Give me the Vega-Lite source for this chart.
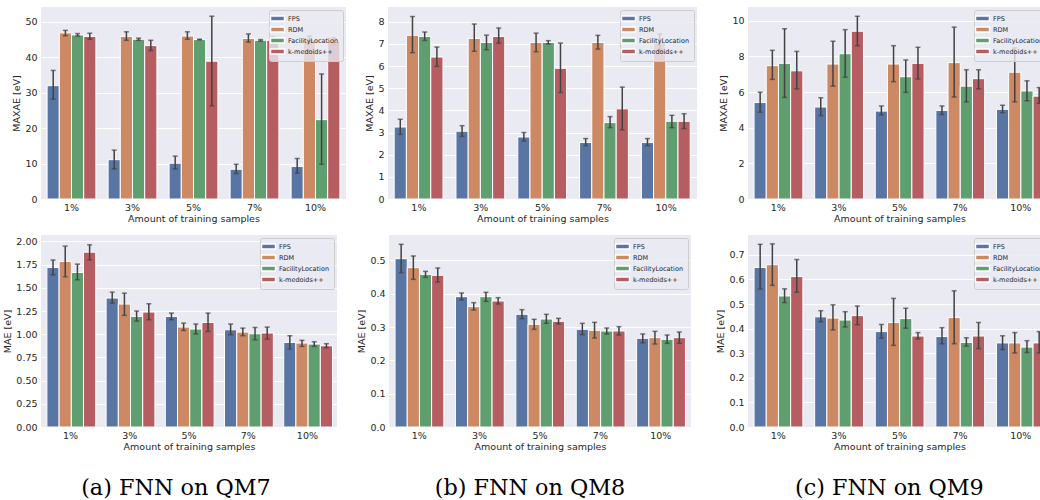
{
  "$schema": "https://vega.github.io/schema/vega-lite/v6.json",
  "background": "white",
  "padding": {"left": 2, "top": 7, "right": 0, "bottom": 0},
  "config": {
    "font": "DejaVu Sans",
    "view": {"fill": "#EAEAF2", "stroke": null},
    "axis": {"domain": false, "ticks": false, "labelFont": "DejaVu Sans", "labelFontSize": 9.5, "labelColor": "#262626", "titleFont": "DejaVu Sans", "titleFontSize": 9.5, "titleFontWeight": "normal", "titleColor": "#262626", "gridColor": "white", "gridWidth": 1},
    "axisX": {"grid": false, "labelAngle": 0, "labelPadding": 3, "titlePadding": 2},
    "axisY": {"grid": true, "labelPadding": 4, "titlePadding": 3},
    "legend": {"orient": "top-right", "offset": 3, "labelFont": "DejaVu Sans", "labelFontSize": 6.5, "labelColor": "#262626", "fillColor": "rgba(234,234,242,0.8)", "strokeColor": "#cccccc", "padding": 4, "cornerRadius": 2, "rowPadding": 0, "labelOffset": 6},
    "title": {"font": "DejaVu Serif", "fontSize": 22.3, "fontWeight": "normal", "color": "#000000"}
  },
  "datasets": {
    "qm7_maxae": [
      {"pct": "1%", "method": "FPS", "value": 32.0, "lo": 28.2, "hi": 36.3},
      {"pct": "1%", "method": "RDM", "value": 46.9, "lo": 46.1, "hi": 47.6},
      {"pct": "1%", "method": "FacilityLocation", "value": 46.3, "lo": 46.0, "hi": 46.7},
      {"pct": "1%", "method": "k-medoids++", "value": 45.9, "lo": 45.1, "hi": 46.8},
      {"pct": "3%", "method": "FPS", "value": 11.1, "lo": 8.5, "hi": 13.8},
      {"pct": "3%", "method": "RDM", "value": 45.9, "lo": 44.8, "hi": 47.2},
      {"pct": "3%", "method": "FacilityLocation", "value": 45.1, "lo": 44.8, "hi": 45.4},
      {"pct": "3%", "method": "k-medoids++", "value": 43.3, "lo": 41.9, "hi": 44.8},
      {"pct": "5%", "method": "FPS", "value": 10.1, "lo": 8.5, "hi": 12.1},
      {"pct": "5%", "method": "RDM", "value": 46.0, "lo": 45.1, "hi": 47.2},
      {"pct": "5%", "method": "FacilityLocation", "value": 45.0, "lo": 44.9, "hi": 45.1},
      {"pct": "5%", "method": "k-medoids++", "value": 38.9, "lo": 26.3, "hi": 51.6},
      {"pct": "7%", "method": "FPS", "value": 8.4, "lo": 7.2, "hi": 9.8},
      {"pct": "7%", "method": "RDM", "value": 45.3, "lo": 44.3, "hi": 46.6},
      {"pct": "7%", "method": "FacilityLocation", "value": 44.8, "lo": 44.6, "hi": 45.0},
      {"pct": "7%", "method": "k-medoids++", "value": 44.8, "lo": 43.8, "hi": 45.9},
      {"pct": "10%", "method": "FPS", "value": 9.2, "lo": 7.3, "hi": 11.4},
      {"pct": "10%", "method": "RDM", "value": 45.0, "lo": 44.0, "hi": 46.0},
      {"pct": "10%", "method": "FacilityLocation", "value": 22.4, "lo": 9.8, "hi": 35.3},
      {"pct": "10%", "method": "k-medoids++", "value": 44.5, "lo": 43.5, "hi": 45.5}
    ],
    "qm8_maxae": [
      {"pct": "1%", "method": "FPS", "value": 3.25, "lo": 2.92, "hi": 3.60},
      {"pct": "1%", "method": "RDM", "value": 7.39, "lo": 6.61, "hi": 8.24},
      {"pct": "1%", "method": "FacilityLocation", "value": 7.34, "lo": 7.16, "hi": 7.54},
      {"pct": "1%", "method": "k-medoids++", "value": 6.41, "lo": 5.99, "hi": 6.86},
      {"pct": "3%", "method": "FPS", "value": 3.06, "lo": 2.83, "hi": 3.31},
      {"pct": "3%", "method": "RDM", "value": 7.25, "lo": 6.67, "hi": 7.90},
      {"pct": "3%", "method": "FacilityLocation", "value": 7.07, "lo": 6.74, "hi": 7.40},
      {"pct": "3%", "method": "k-medoids++", "value": 7.34, "lo": 7.04, "hi": 7.72},
      {"pct": "5%", "method": "FPS", "value": 2.80, "lo": 2.62, "hi": 3.00},
      {"pct": "5%", "method": "RDM", "value": 7.07, "lo": 6.65, "hi": 7.49},
      {"pct": "5%", "method": "FacilityLocation", "value": 7.07, "lo": 7.00, "hi": 7.15},
      {"pct": "5%", "method": "k-medoids++", "value": 5.90, "lo": 4.81, "hi": 7.04},
      {"pct": "7%", "method": "FPS", "value": 2.55, "lo": 2.41, "hi": 2.73},
      {"pct": "7%", "method": "RDM", "value": 7.07, "lo": 6.77, "hi": 7.39},
      {"pct": "7%", "method": "FacilityLocation", "value": 3.45, "lo": 3.22, "hi": 3.72},
      {"pct": "7%", "method": "k-medoids++", "value": 4.07, "lo": 3.12, "hi": 5.05},
      {"pct": "10%", "method": "FPS", "value": 2.55, "lo": 2.41, "hi": 2.73},
      {"pct": "10%", "method": "RDM", "value": 7.05, "lo": 6.70, "hi": 7.45},
      {"pct": "10%", "method": "FacilityLocation", "value": 3.51, "lo": 3.22, "hi": 3.78},
      {"pct": "10%", "method": "k-medoids++", "value": 3.51, "lo": 3.18, "hi": 3.85}
    ],
    "qm9_maxae": [
      {"pct": "1%", "method": "FPS", "value": 5.41, "lo": 4.87, "hi": 5.99},
      {"pct": "1%", "method": "RDM", "value": 7.48, "lo": 6.71, "hi": 8.34},
      {"pct": "1%", "method": "FacilityLocation", "value": 7.61, "lo": 5.70, "hi": 9.55},
      {"pct": "1%", "method": "k-medoids++", "value": 7.19, "lo": 6.18, "hi": 8.28},
      {"pct": "3%", "method": "FPS", "value": 5.16, "lo": 4.68, "hi": 5.68},
      {"pct": "3%", "method": "RDM", "value": 7.57, "lo": 6.33, "hi": 8.85},
      {"pct": "3%", "method": "FacilityLocation", "value": 8.15, "lo": 6.83, "hi": 9.50},
      {"pct": "3%", "method": "k-medoids++", "value": 9.41, "lo": 8.60, "hi": 10.25},
      {"pct": "5%", "method": "FPS", "value": 4.93, "lo": 4.72, "hi": 5.22},
      {"pct": "5%", "method": "RDM", "value": 7.57, "lo": 6.58, "hi": 8.60},
      {"pct": "5%", "method": "FacilityLocation", "value": 6.86, "lo": 5.98, "hi": 7.80},
      {"pct": "5%", "method": "k-medoids++", "value": 7.61, "lo": 6.73, "hi": 8.51},
      {"pct": "7%", "method": "FPS", "value": 4.97, "lo": 4.74, "hi": 5.22},
      {"pct": "7%", "method": "RDM", "value": 7.65, "lo": 5.72, "hi": 9.64},
      {"pct": "7%", "method": "FacilityLocation", "value": 6.33, "lo": 5.45, "hi": 7.25},
      {"pct": "7%", "method": "k-medoids++", "value": 6.75, "lo": 6.18, "hi": 7.25},
      {"pct": "10%", "method": "FPS", "value": 5.03, "lo": 4.84, "hi": 5.26},
      {"pct": "10%", "method": "RDM", "value": 7.11, "lo": 5.45, "hi": 8.47},
      {"pct": "10%", "method": "FacilityLocation", "value": 6.06, "lo": 5.51, "hi": 6.63},
      {"pct": "10%", "method": "k-medoids++", "value": 5.77, "lo": 5.37, "hi": 6.25}
    ],
    "qm7_mae": [
      {"pct": "1%", "method": "FPS", "value": 1.72, "lo": 1.64, "hi": 1.80},
      {"pct": "1%", "method": "RDM", "value": 1.785, "lo": 1.62, "hi": 1.95},
      {"pct": "1%", "method": "FacilityLocation", "value": 1.666, "lo": 1.587, "hi": 1.756},
      {"pct": "1%", "method": "k-medoids++", "value": 1.885, "lo": 1.802, "hi": 1.964},
      {"pct": "3%", "method": "FPS", "value": 1.39, "lo": 1.336, "hi": 1.454},
      {"pct": "3%", "method": "RDM", "value": 1.325, "lo": 1.203, "hi": 1.443},
      {"pct": "3%", "method": "FacilityLocation", "value": 1.192, "lo": 1.142, "hi": 1.25},
      {"pct": "3%", "method": "k-medoids++", "value": 1.239, "lo": 1.156, "hi": 1.329},
      {"pct": "5%", "method": "FPS", "value": 1.192, "lo": 1.156, "hi": 1.228},
      {"pct": "5%", "method": "RDM", "value": 1.077, "lo": 1.041, "hi": 1.12},
      {"pct": "5%", "method": "FacilityLocation", "value": 1.056, "lo": 1.002, "hi": 1.11},
      {"pct": "5%", "method": "k-medoids++", "value": 1.127, "lo": 1.03, "hi": 1.228},
      {"pct": "7%", "method": "FPS", "value": 1.048, "lo": 0.995, "hi": 1.11},
      {"pct": "7%", "method": "RDM", "value": 1.023, "lo": 0.984, "hi": 1.066},
      {"pct": "7%", "method": "FacilityLocation", "value": 1.005, "lo": 0.941, "hi": 1.073},
      {"pct": "7%", "method": "k-medoids++", "value": 1.013, "lo": 0.948, "hi": 1.077},
      {"pct": "10%", "method": "FPS", "value": 0.912, "lo": 0.84, "hi": 0.984},
      {"pct": "10%", "method": "RDM", "value": 0.905, "lo": 0.869, "hi": 0.934},
      {"pct": "10%", "method": "FacilityLocation", "value": 0.894, "lo": 0.869, "hi": 0.919},
      {"pct": "10%", "method": "k-medoids++", "value": 0.876, "lo": 0.855, "hi": 0.898}
    ],
    "qm8_mae": [
      {"pct": "1%", "method": "FPS", "value": 0.505, "lo": 0.463, "hi": 0.548},
      {"pct": "1%", "method": "RDM", "value": 0.478, "lo": 0.443, "hi": 0.513},
      {"pct": "1%", "method": "FacilityLocation", "value": 0.458, "lo": 0.449, "hi": 0.467},
      {"pct": "1%", "method": "k-medoids++", "value": 0.455, "lo": 0.435, "hi": 0.477},
      {"pct": "3%", "method": "FPS", "value": 0.391, "lo": 0.381, "hi": 0.402},
      {"pct": "3%", "method": "RDM", "value": 0.361, "lo": 0.351, "hi": 0.373},
      {"pct": "3%", "method": "FacilityLocation", "value": 0.391, "lo": 0.377, "hi": 0.404},
      {"pct": "3%", "method": "k-medoids++", "value": 0.378, "lo": 0.369, "hi": 0.388},
      {"pct": "5%", "method": "FPS", "value": 0.338, "lo": 0.325, "hi": 0.352},
      {"pct": "5%", "method": "RDM", "value": 0.308, "lo": 0.293, "hi": 0.323},
      {"pct": "5%", "method": "FacilityLocation", "value": 0.324, "lo": 0.311, "hi": 0.338},
      {"pct": "5%", "method": "k-medoids++", "value": 0.317, "lo": 0.309, "hi": 0.326},
      {"pct": "7%", "method": "FPS", "value": 0.293, "lo": 0.277, "hi": 0.311},
      {"pct": "7%", "method": "RDM", "value": 0.290, "lo": 0.267, "hi": 0.314},
      {"pct": "7%", "method": "FacilityLocation", "value": 0.288, "lo": 0.279, "hi": 0.297},
      {"pct": "7%", "method": "k-medoids++", "value": 0.288, "lo": 0.276, "hi": 0.301},
      {"pct": "10%", "method": "FPS", "value": 0.266, "lo": 0.253, "hi": 0.279},
      {"pct": "10%", "method": "RDM", "value": 0.268, "lo": 0.249, "hi": 0.287},
      {"pct": "10%", "method": "FacilityLocation", "value": 0.263, "lo": 0.251, "hi": 0.276},
      {"pct": "10%", "method": "k-medoids++", "value": 0.268, "lo": 0.251, "hi": 0.285}
    ],
    "qm9_mae": [
      {"pct": "1%", "method": "FPS", "value": 0.649, "lo": 0.561, "hi": 0.743},
      {"pct": "1%", "method": "RDM", "value": 0.660, "lo": 0.576, "hi": 0.745},
      {"pct": "1%", "method": "FacilityLocation", "value": 0.533, "lo": 0.506, "hi": 0.562},
      {"pct": "1%", "method": "k-medoids++", "value": 0.612, "lo": 0.548, "hi": 0.681},
      {"pct": "3%", "method": "FPS", "value": 0.448, "lo": 0.428, "hi": 0.473},
      {"pct": "3%", "method": "RDM", "value": 0.443, "lo": 0.395, "hi": 0.497},
      {"pct": "3%", "method": "FacilityLocation", "value": 0.435, "lo": 0.407, "hi": 0.469},
      {"pct": "3%", "method": "k-medoids++", "value": 0.453, "lo": 0.416, "hi": 0.492},
      {"pct": "5%", "method": "FPS", "value": 0.388, "lo": 0.361, "hi": 0.417},
      {"pct": "5%", "method": "RDM", "value": 0.425, "lo": 0.332, "hi": 0.523},
      {"pct": "5%", "method": "FacilityLocation", "value": 0.441, "lo": 0.402, "hi": 0.483},
      {"pct": "5%", "method": "k-medoids++", "value": 0.370, "lo": 0.358, "hi": 0.384},
      {"pct": "7%", "method": "FPS", "value": 0.368, "lo": 0.338, "hi": 0.404},
      {"pct": "7%", "method": "RDM", "value": 0.445, "lo": 0.339, "hi": 0.554},
      {"pct": "7%", "method": "FacilityLocation", "value": 0.344, "lo": 0.329, "hi": 0.363},
      {"pct": "7%", "method": "k-medoids++", "value": 0.370, "lo": 0.319, "hi": 0.425},
      {"pct": "10%", "method": "FPS", "value": 0.342, "lo": 0.315, "hi": 0.371},
      {"pct": "10%", "method": "RDM", "value": 0.342, "lo": 0.301, "hi": 0.384},
      {"pct": "10%", "method": "FacilityLocation", "value": 0.325, "lo": 0.303, "hi": 0.351},
      {"pct": "10%", "method": "k-medoids++", "value": 0.342, "lo": 0.301, "hi": 0.388}
    ]
  },
  "resolve": {"scale": {"color": "independent", "y": "independent", "x": "independent"}, "legend": {"color": "independent"}},
  "spacing": 12,
  "vconcat": [
    {
      "spacing": 21,
      "resolve": {"scale": {"color": "independent", "y": "independent", "x": "independent"}, "legend": {"color": "independent"}},
      "hconcat": [
        {
          "spacing": 18,
          "resolve": {"scale": {"color": "independent", "y": "independent", "x": "independent"}, "legend": {"color": "independent"}},
          "hconcat": [
            {
              "width": 305, "height": 192,
              "data": {"name": "qm7_maxae"},
              "encoding": {
                "x": {"field": "pct", "type": "nominal", "sort": ["1%", "3%", "5%", "7%", "10%"], "title": "Amount of training samples", "scale": {"paddingInner": 0.2, "paddingOuter": 0.1}},
                "xOffset": {"field": "method", "type": "nominal", "sort": ["FPS", "RDM", "FacilityLocation", "k-medoids++"], "scale": {"paddingInner": 0, "paddingOuter": 0}}
              },
              "layer": [
                {"mark": {"type": "bar", "stroke": "white", "strokeWidth": 1},
                 "encoding": {
                   "y": {"field": "value", "type": "quantitative", "title": "MAXAE [eV]", "scale": {"domain": [0, 54.2], "nice": false}, "axis": {"values": [0, 10, 20, 30, 40, 50], "format": "d"}},
                   "color": {"field": "method", "type": "nominal", "scale": {"domain": ["FPS", "RDM", "FacilityLocation", "k-medoids++"], "range": ["#5975a4", "#cc8963", "#5f9e6e", "#b55d60"]}, "legend": {"title": null, "symbolType": "M-2,-0.7H2V0.7H-2Z", "symbolSize": 49}}
                 }},
                {"mark": {"type": "rule", "color": "#424242", "strokeWidth": 1.5},
                 "encoding": {"y": {"field": "lo", "type": "quantitative", "title": "MAXAE [eV]", "scale": {"domain": [0, 54.2], "nice": false}, "axis": {"values": [0, 10, 20, 30, 40, 50], "format": "d"}}, "y2": {"field": "hi"}}},
                {"mark": {"type": "tick", "color": "#424242", "size": 5, "thickness": 1.5, "orient": "horizontal"},
                 "encoding": {"y": {"field": "lo", "type": "quantitative", "title": "MAXAE [eV]", "scale": {"domain": [0, 54.2], "nice": false}, "axis": {"values": [0, 10, 20, 30, 40, 50], "format": "d"}}}},
                {"mark": {"type": "tick", "color": "#424242", "size": 5, "thickness": 1.5, "orient": "horizontal"},
                 "encoding": {"y": {"field": "hi", "type": "quantitative", "title": "MAXAE [eV]", "scale": {"domain": [0, 54.2], "nice": false}, "axis": {"values": [0, 10, 20, 30, 40, 50], "format": "d"}}}}
              ]
            },
            {
              "width": 309, "height": 192,
              "data": {"name": "qm8_maxae"},
              "encoding": {
                "x": {"field": "pct", "type": "nominal", "sort": ["1%", "3%", "5%", "7%", "10%"], "title": "Amount of training samples", "scale": {"paddingInner": 0.2, "paddingOuter": 0.1}},
                "xOffset": {"field": "method", "type": "nominal", "sort": ["FPS", "RDM", "FacilityLocation", "k-medoids++"], "scale": {"paddingInner": 0, "paddingOuter": 0}}
              },
              "layer": [
                {"mark": {"type": "bar", "stroke": "white", "strokeWidth": 1},
                 "encoding": {
                   "y": {"field": "value", "type": "quantitative", "title": "MAXAE [eV]", "scale": {"domain": [0, 8.67], "nice": false}, "axis": {"values": [0, 1, 2, 3, 4, 5, 6, 7, 8], "format": "d"}},
                   "color": {"field": "method", "type": "nominal", "scale": {"domain": ["FPS", "RDM", "FacilityLocation", "k-medoids++"], "range": ["#5975a4", "#cc8963", "#5f9e6e", "#b55d60"]}, "legend": {"title": null, "symbolType": "M-2,-0.7H2V0.7H-2Z", "symbolSize": 49}}
                 }},
                {"mark": {"type": "rule", "color": "#424242", "strokeWidth": 1.5},
                 "encoding": {"y": {"field": "lo", "type": "quantitative", "title": "MAXAE [eV]", "scale": {"domain": [0, 8.67], "nice": false}, "axis": {"values": [0, 1, 2, 3, 4, 5, 6, 7, 8], "format": "d"}}, "y2": {"field": "hi"}}},
                {"mark": {"type": "tick", "color": "#424242", "size": 5, "thickness": 1.5, "orient": "horizontal"},
                 "encoding": {"y": {"field": "lo", "type": "quantitative", "title": "MAXAE [eV]", "scale": {"domain": [0, 8.67], "nice": false}, "axis": {"values": [0, 1, 2, 3, 4, 5, 6, 7, 8], "format": "d"}}}},
                {"mark": {"type": "tick", "color": "#424242", "size": 5, "thickness": 1.5, "orient": "horizontal"},
                 "encoding": {"y": {"field": "hi", "type": "quantitative", "title": "MAXAE [eV]", "scale": {"domain": [0, 8.67], "nice": false}, "axis": {"values": [0, 1, 2, 3, 4, 5, 6, 7, 8], "format": "d"}}}}
              ]
            }
          ]
        },
        {
          "width": 303, "height": 192,
          "data": {"name": "qm9_maxae"},
          "encoding": {
            "x": {"field": "pct", "type": "nominal", "sort": ["1%", "3%", "5%", "7%", "10%"], "title": "Amount of training samples", "scale": {"paddingInner": 0.2, "paddingOuter": 0.1}},
            "xOffset": {"field": "method", "type": "nominal", "sort": ["FPS", "RDM", "FacilityLocation", "k-medoids++"], "scale": {"paddingInner": 0, "paddingOuter": 0}}
          },
          "layer": [
            {"mark": {"type": "bar", "stroke": "white", "strokeWidth": 1},
             "encoding": {
               "y": {"field": "value", "type": "quantitative", "title": "MAXAE [eV]", "scale": {"domain": [0, 10.77], "nice": false}, "axis": {"values": [0, 2, 4, 6, 8, 10], "format": "d"}},
               "color": {"field": "method", "type": "nominal", "scale": {"domain": ["FPS", "RDM", "FacilityLocation", "k-medoids++"], "range": ["#5975a4", "#cc8963", "#5f9e6e", "#b55d60"]}, "legend": {"title": null, "symbolType": "M-2,-0.7H2V0.7H-2Z", "symbolSize": 49}}
             }},
            {"mark": {"type": "rule", "color": "#424242", "strokeWidth": 1.5},
             "encoding": {"y": {"field": "lo", "type": "quantitative", "title": "MAXAE [eV]", "scale": {"domain": [0, 10.77], "nice": false}, "axis": {"values": [0, 2, 4, 6, 8, 10], "format": "d"}}, "y2": {"field": "hi"}}},
            {"mark": {"type": "tick", "color": "#424242", "size": 5, "thickness": 1.5, "orient": "horizontal"},
             "encoding": {"y": {"field": "lo", "type": "quantitative", "title": "MAXAE [eV]", "scale": {"domain": [0, 10.77], "nice": false}, "axis": {"values": [0, 2, 4, 6, 8, 10], "format": "d"}}}},
            {"mark": {"type": "tick", "color": "#424242", "size": 5, "thickness": 1.5, "orient": "horizontal"},
             "encoding": {"y": {"field": "hi", "type": "quantitative", "title": "MAXAE [eV]", "scale": {"domain": [0, 10.77], "nice": false}, "axis": {"values": [0, 2, 4, 6, 8, 10], "format": "d"}}}}
          ]
        }
      ]
    },
    {
      "spacing": 24,
      "resolve": {"scale": {"color": "independent", "y": "independent", "x": "independent"}, "legend": {"color": "independent"}},
      "hconcat": [
        {
          "spacing": 19,
          "resolve": {"scale": {"color": "independent", "y": "independent", "x": "independent"}, "legend": {"color": "independent"}},
          "hconcat": [
            {
              "width": 296, "height": 192,
              "title": {"text": "(a) FNN on QM7", "orient": "bottom", "anchor": "middle", "frame": "bounds", "offset": 26, "dx": 6},
              "data": {"name": "qm7_mae"},
              "encoding": {
                "x": {"field": "pct", "type": "nominal", "sort": ["1%", "3%", "5%", "7%", "10%"], "title": "Amount of training samples", "scale": {"paddingInner": 0.2, "paddingOuter": 0.1}},
                "xOffset": {"field": "method", "type": "nominal", "sort": ["FPS", "RDM", "FacilityLocation", "k-medoids++"], "scale": {"paddingInner": 0, "paddingOuter": 0}}
              },
              "layer": [
                {"mark": {"type": "bar", "stroke": "white", "strokeWidth": 1},
                 "encoding": {
                   "y": {"field": "value", "type": "quantitative", "title": "MAE [eV]", "scale": {"domain": [0, 2.07], "nice": false}, "axis": {"values": [0, 0.25, 0.5, 0.75, 1, 1.25, 1.5, 1.75, 2], "format": ".2f"}},
                   "color": {"field": "method", "type": "nominal", "scale": {"domain": ["FPS", "RDM", "FacilityLocation", "k-medoids++"], "range": ["#5975a4", "#cc8963", "#5f9e6e", "#b55d60"]}, "legend": {"title": null, "symbolType": "M-2,-0.7H2V0.7H-2Z", "symbolSize": 49}}
                 }},
                {"mark": {"type": "rule", "color": "#424242", "strokeWidth": 1.5},
                 "encoding": {"y": {"field": "lo", "type": "quantitative", "title": "MAE [eV]", "scale": {"domain": [0, 2.07], "nice": false}, "axis": {"values": [0, 0.25, 0.5, 0.75, 1, 1.25, 1.5, 1.75, 2], "format": ".2f"}}, "y2": {"field": "hi"}}},
                {"mark": {"type": "tick", "color": "#424242", "size": 5, "thickness": 1.5, "orient": "horizontal"},
                 "encoding": {"y": {"field": "lo", "type": "quantitative", "title": "MAE [eV]", "scale": {"domain": [0, 2.07], "nice": false}, "axis": {"values": [0, 0.25, 0.5, 0.75, 1, 1.25, 1.5, 1.75, 2], "format": ".2f"}}}},
                {"mark": {"type": "tick", "color": "#424242", "size": 5, "thickness": 1.5, "orient": "horizontal"},
                 "encoding": {"y": {"field": "hi", "type": "quantitative", "title": "MAE [eV]", "scale": {"domain": [0, 2.07], "nice": false}, "axis": {"values": [0, 0.25, 0.5, 0.75, 1, 1.25, 1.5, 1.75, 2], "format": ".2f"}}}}
              ]
            },
            {
              "width": 302, "height": 192,
              "title": {"text": "(b) FNN on QM8", "orient": "bottom", "anchor": "middle", "frame": "bounds", "offset": 26, "dx": 6},
              "data": {"name": "qm8_mae"},
              "encoding": {
                "x": {"field": "pct", "type": "nominal", "sort": ["1%", "3%", "5%", "7%", "10%"], "title": "Amount of training samples", "scale": {"paddingInner": 0.2, "paddingOuter": 0.1}},
                "xOffset": {"field": "method", "type": "nominal", "sort": ["FPS", "RDM", "FacilityLocation", "k-medoids++"], "scale": {"paddingInner": 0, "paddingOuter": 0}}
              },
              "layer": [
                {"mark": {"type": "bar", "stroke": "white", "strokeWidth": 1},
                 "encoding": {
                   "y": {"field": "value", "type": "quantitative", "title": "MAE [eV]", "scale": {"domain": [0, 0.576], "nice": false}, "axis": {"values": [0, 0.1, 0.2, 0.3, 0.4, 0.5], "format": ".1f"}},
                   "color": {"field": "method", "type": "nominal", "scale": {"domain": ["FPS", "RDM", "FacilityLocation", "k-medoids++"], "range": ["#5975a4", "#cc8963", "#5f9e6e", "#b55d60"]}, "legend": {"title": null, "symbolType": "M-2,-0.7H2V0.7H-2Z", "symbolSize": 49}}
                 }},
                {"mark": {"type": "rule", "color": "#424242", "strokeWidth": 1.5},
                 "encoding": {"y": {"field": "lo", "type": "quantitative", "title": "MAE [eV]", "scale": {"domain": [0, 0.576], "nice": false}, "axis": {"values": [0, 0.1, 0.2, 0.3, 0.4, 0.5], "format": ".1f"}}, "y2": {"field": "hi"}}},
                {"mark": {"type": "tick", "color": "#424242", "size": 5, "thickness": 1.5, "orient": "horizontal"},
                 "encoding": {"y": {"field": "lo", "type": "quantitative", "title": "MAE [eV]", "scale": {"domain": [0, 0.576], "nice": false}, "axis": {"values": [0, 0.1, 0.2, 0.3, 0.4, 0.5], "format": ".1f"}}}},
                {"mark": {"type": "tick", "color": "#424242", "size": 5, "thickness": 1.5, "orient": "horizontal"},
                 "encoding": {"y": {"field": "hi", "type": "quantitative", "title": "MAE [eV]", "scale": {"domain": [0, 0.576], "nice": false}, "axis": {"values": [0, 0.1, 0.2, 0.3, 0.4, 0.5], "format": ".1f"}}}}
              ]
            }
          ]
        },
        {
          "width": 303, "height": 192,
          "title": {"text": "(c) FNN on QM9", "orient": "bottom", "anchor": "middle", "frame": "bounds", "offset": 26, "dx": 6},
          "data": {"name": "qm9_mae"},
          "encoding": {
            "x": {"field": "pct", "type": "nominal", "sort": ["1%", "3%", "5%", "7%", "10%"], "title": "Amount of training samples", "scale": {"paddingInner": 0.2, "paddingOuter": 0.1}},
            "xOffset": {"field": "method", "type": "nominal", "sort": ["FPS", "RDM", "FacilityLocation", "k-medoids++"], "scale": {"paddingInner": 0, "paddingOuter": 0}}
          },
          "layer": [
            {"mark": {"type": "bar", "stroke": "white", "strokeWidth": 1},
             "encoding": {
               "y": {"field": "value", "type": "quantitative", "title": "MAE [eV]", "scale": {"domain": [0, 0.781], "nice": false}, "axis": {"values": [0, 0.1, 0.2, 0.3, 0.4, 0.5, 0.6, 0.7], "format": ".1f"}},
               "color": {"field": "method", "type": "nominal", "scale": {"domain": ["FPS", "RDM", "FacilityLocation", "k-medoids++"], "range": ["#5975a4", "#cc8963", "#5f9e6e", "#b55d60"]}, "legend": {"title": null, "symbolType": "M-2,-0.7H2V0.7H-2Z", "symbolSize": 49}}
             }},
            {"mark": {"type": "rule", "color": "#424242", "strokeWidth": 1.5},
             "encoding": {"y": {"field": "lo", "type": "quantitative", "title": "MAE [eV]", "scale": {"domain": [0, 0.781], "nice": false}, "axis": {"values": [0, 0.1, 0.2, 0.3, 0.4, 0.5, 0.6, 0.7], "format": ".1f"}}, "y2": {"field": "hi"}}},
            {"mark": {"type": "tick", "color": "#424242", "size": 5, "thickness": 1.5, "orient": "horizontal"},
             "encoding": {"y": {"field": "lo", "type": "quantitative", "title": "MAE [eV]", "scale": {"domain": [0, 0.781], "nice": false}, "axis": {"values": [0, 0.1, 0.2, 0.3, 0.4, 0.5, 0.6, 0.7], "format": ".1f"}}}},
            {"mark": {"type": "tick", "color": "#424242", "size": 5, "thickness": 1.5, "orient": "horizontal"},
             "encoding": {"y": {"field": "hi", "type": "quantitative", "title": "MAE [eV]", "scale": {"domain": [0, 0.781], "nice": false}, "axis": {"values": [0, 0.1, 0.2, 0.3, 0.4, 0.5, 0.6, 0.7], "format": ".1f"}}}}
          ]
        }
      ]
    }
  ]
}
